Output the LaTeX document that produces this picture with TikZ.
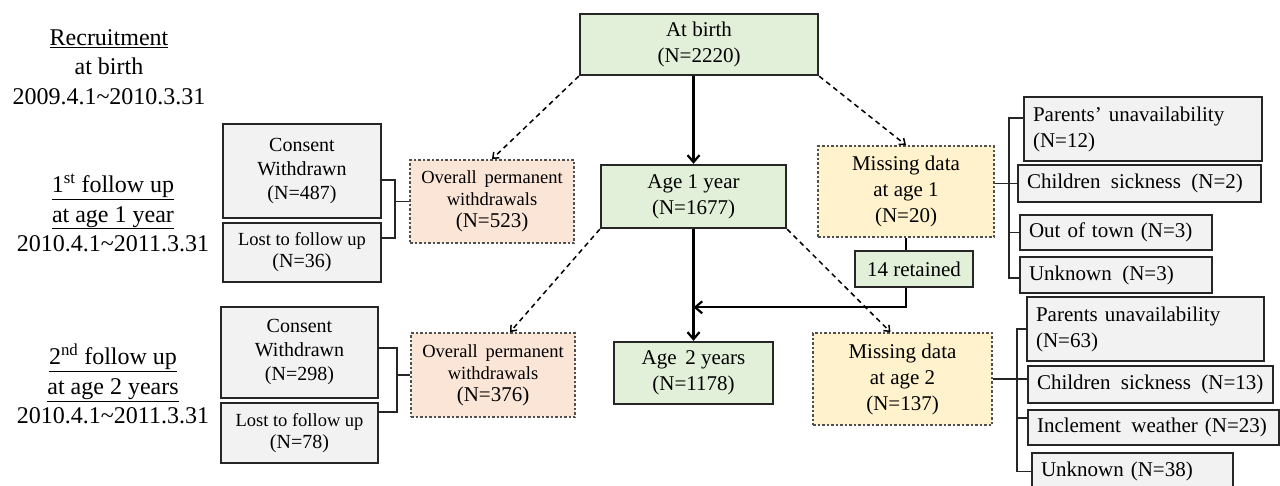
\documentclass[tikz,border=0pt]{standalone}
\usepackage{fontspec}
\setmainfont{Liberation Serif}
\usetikzlibrary{arrows.meta,calc}
\definecolor{gfill}{HTML}{E2F0D9}
\definecolor{grfill}{HTML}{F2F2F2}
\definecolor{sfill}{HTML}{FBE5D6}
\definecolor{yfill}{HTML}{FFF2CC}
\definecolor{bordc}{HTML}{262626}
\definecolor{dotc}{HTML}{505050}
\newcommand\fzA{\fontsize{21}{26}\selectfont}
\newcommand\fzB{\fontsize{18.5}{22}\selectfont}
\newcommand\fzC{\fontsize{24}{29.5}\selectfont}
\newcommand\fzD{\fontsize{20}{24}\selectfont}
\begin{document}
\begin{tikzpicture}[x=1pt,y=-1pt,
  gbox/.style={draw=bordc, line width=2.4pt, fill=gfill, align=center, font=\fzA, inner sep=2pt},
  grbox/.style={draw=bordc, line width=1.8pt, fill=grfill, align=center, inner sep=2pt},
  ovbox/.style={draw=dotc, line width=1.7pt, dash pattern=on 2.5pt off 2pt, fill=sfill, align=center, font=\fzB, inner sep=2pt},
  mbox/.style={draw=dotc, line width=1.7pt, dash pattern=on 2.5pt off 2pt, fill=yfill, align=center, font=\fzA, inner sep=2pt},
  rbox/.style={draw=bordc, line width=1.8pt, fill=grfill, align=left, font=\fzA, inner xsep=9pt, inner ysep=2pt},
  lbl/.style={align=center, font=\fzC, inner sep=0pt},
  conn/.style={draw=bordc, line width=1.5pt},
  solidarrow/.style={draw=black, line width=2.2pt, -{Straight Barb[length=7pt,width=12pt]}},
  dasharrow/.style={draw=black, line width=1.5pt, dash pattern=on 5pt off 4pt, -{Straight Barb[length=5pt,width=8pt]}}
]
\clip (0,0) rectangle (1280,485);
\fill[white] (0,0) rectangle (1280,485);

% left labels
\node[lbl] (rec) at (109,67) {\underline{Recruitment}\\at birth\\2009.4.1\char`~2010.3.31};
\node[lbl] (fu1) at (113,213) {\underline{1\textsuperscript{st} follow up}\\\underline{at age 1 year}\\2010.4.1\char`~2011.3.31};
\node[lbl] (fu2) at (113,384) {\underline{2\textsuperscript{nd} follow up}\\\underline{at age 2 years}\\2010.4.1\char`~2011.3.31};

% main column
\node[gbox, minimum width=238, minimum height=61] (birth) at (699,44.5) {At birth\\(N=2220)};
\node[gbox, minimum width=185, minimum height=63] (age1) at (693.5,196.5) {Age 1 year\\(N=1677)};
\node[gbox, minimum width=159, minimum height=62] (age2) at (693.5,373) {Age\, 2 years\\(N=1178)};
\node[gbox, minimum width=118, minimum height=36] (ret) at (914,269) {14 retained};

% missing data
\node[mbox, minimum width=176, minimum height=91] (m1) at (906,191.5) {Missing data\\at age 1\\(N=20)};
\node[mbox, minimum width=179, minimum height=92] (m2) at (902.5,379) {Missing data\\at age 2\\(N=137)};

% withdrawals
\node[ovbox, minimum width=164, minimum height=83] (ov1) at (492,201.5) {Overall\, permanent\\withdrawals\\{\fzA(N=523)}};
\node[ovbox, minimum width=164, minimum height=84] (ov2) at (493,375) {Overall\, permanent\\withdrawals\\{\fzA(N=376)}};

\node[grbox, font=\fzD, minimum width=158, minimum height=94] (cw1) at (302,171) {Consent\\Withdrawn\\(N=487)};
\node[grbox, font=\fzB, minimum width=158, minimum height=59] (lf1) at (302,252.5) {Lost to follow up\\{\fzD(N=36)}};
\node[grbox, font=\fzD, minimum width=157, minimum height=91] (cw2) at (299.5,352.5) {Consent\\Withdrawn\\(N=298)};
\node[grbox, font=\fzB, minimum width=157, minimum height=60] (lf2) at (299.5,433) {Lost to follow up\\{\fzD(N=78)}};

% reasons age 1
\node[rbox, text width=220, minimum height=64] (r1a) at (1143,129) {Parents’ unavailability\\(N=12)};
\node[rbox, text width=225, minimum height=37] (r1b) at (1139.5,183.5) {Children\, sickness\, (N=2)};
\node[rbox, text width=174, minimum height=35] (r1c) at (1116,232.5) {Out of town (N=3)};
\node[rbox, text width=174, minimum height=36] (r1d) at (1116,275) {Unknown\, (N=3)};

% reasons age 2
\node[rbox, text width=219, minimum height=64] (r2a) at (1145.5,329) {Parents unavailability\\(N=63)};
\node[rbox, text width=227, minimum height=37] (r2b) at (1150.5,384.5) {Children\, sickness\, (N=13)};
\node[rbox, text width=233, minimum height=35] (r2c) at (1153.5,427.5) {\mbox{Inclement\, weather (N=23)}};
\node[rbox, text width=183, minimum height=37] (r2d) at (1132.5,471.5) {Unknown (N=38)};

% bracket coordinates
\coordinate (bl1) at (395,0);
\coordinate (bl2) at (397,0);
\coordinate (br1) at (1009,0);
\coordinate (br2) at (1017,0);

% left brackets
\draw[conn] ([yshift=-9pt]cw1.east) -| (bl1 |- lf1.north) |- ([yshift=14.5pt]lf1.east);
\draw[conn] (ov1.west) -- (ov1.west -| bl1);
\draw[conn] ([yshift=4.5pt]cw2.east) -| (bl2 |- lf2.north) |- ([yshift=21pt]lf2.east);
\draw[conn] (ov2.west) -- (ov2.west -| bl2);

% right brackets
\draw[conn] ([yshift=11pt]r1a.west) -| (br1 |- r1c.north) |- ([yshift=-3pt]r1d.west);
\draw[conn] (m1.east |- r1b.west) -- (r1b.west);
\draw[conn] (r1c.west) -- (r1c.west -| br1);
\draw[conn] (r2a.west) -| (br2 |- r2c.north) |- (r2d.west);
\draw[conn] (m2.east) -- (m2.east -| r2b.west);
\draw[conn] ([yshift=9.5pt]r2c.west) -- ([yshift=9.5pt]r2c.west -| br2);

% main arrows
\draw[solidarrow] (birth.south -| age1.north) -- (age1.north);
\draw[solidarrow] (age1.south) -- (age2.north);
\draw[draw=black, line width=2.2pt] (m1.south) -- (m1.south |- ret.north);
\draw[solidarrow] (m1.south |- ret.south) |- ($(age1.south)!0.7!(age2.north)$);

% dashed arrows
\draw[dasharrow] (birth.south west) -- (ov1.north);
\draw[dasharrow] (birth.south east) -- (m1.north);
\draw[dasharrow] (age1.south west) -- ([xshift=17pt]ov2.north);
\draw[dasharrow] (age1.south east) -- ([xshift=-12pt]m2.north);
\end{tikzpicture}
\end{document}
